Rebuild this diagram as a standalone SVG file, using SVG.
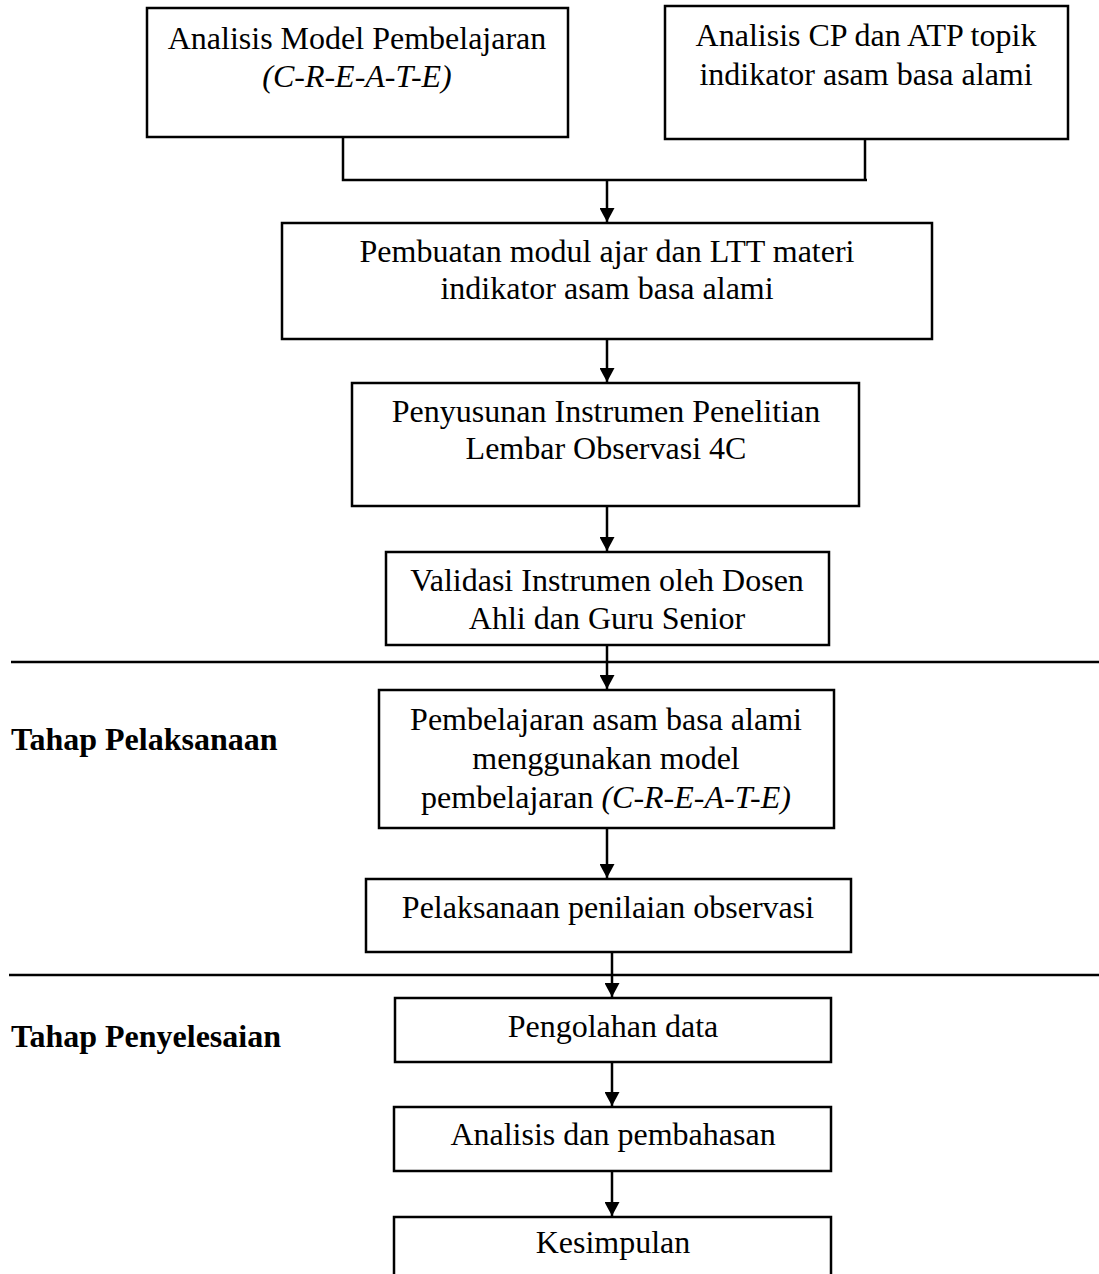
<svg xmlns="http://www.w3.org/2000/svg" width="1099" height="1274" viewBox="0 0 1099 1274">
<style>
  .box { fill: #ffffff; stroke: #000000; stroke-width: 2.5; }
  .t { font-family: "Liberation Serif", "Times New Roman", serif; font-size: 32px; fill: #000000; text-anchor: middle; }
  .i { font-style: italic; }
  .lbl { font-family: "Liberation Serif", "Times New Roman", serif; font-size: 32px; font-weight: bold; fill: #000000; }
  .ln { stroke: #000000; stroke-width: 2.5; fill: none; }
  .sep { stroke: #000000; stroke-width: 2.5; }
</style>
<defs>
  <marker id="arr" viewBox="0 0 14 15" refX="14" refY="7.5" markerWidth="14" markerHeight="15" markerUnits="userSpaceOnUse" orient="auto">
    <path d="M0,0 L14,7.5 L0,15 Z" fill="#000000"/>
  </marker>
</defs>
<rect width="1099" height="1274" fill="#ffffff"/>

<g id="separators">
  <line class="sep" x1="11" y1="662" x2="1099" y2="662"/>
  <line class="sep" x1="9" y1="975" x2="1099" y2="975"/>
</g>

<g id="connectors">
  <polyline class="ln" points="343,137 343,180 867,180"/>
  <line class="ln" x1="865" y1="139" x2="865" y2="180"/>
  <line class="ln" x1="607" y1="180" x2="607" y2="222" marker-end="url(#arr)"/>
  <line class="ln" x1="607" y1="339" x2="607" y2="382" marker-end="url(#arr)"/>
  <line class="ln" x1="607" y1="506" x2="607" y2="551" marker-end="url(#arr)"/>
  <line class="ln" x1="607" y1="645" x2="607" y2="689" marker-end="url(#arr)"/>
  <line class="ln" x1="607" y1="828" x2="607" y2="878" marker-end="url(#arr)"/>
  <line class="ln" x1="612" y1="952" x2="612" y2="997" marker-end="url(#arr)"/>
  <line class="ln" x1="612" y1="1062" x2="612" y2="1106" marker-end="url(#arr)"/>
  <line class="ln" x1="612" y1="1171" x2="612" y2="1216" marker-end="url(#arr)"/>
</g>

<g id="node-analisis-model">
  <rect class="box" x="147" y="8" width="421" height="129"/>
  <text class="t" x="357" y="49">Analisis Model Pembelajaran</text>
  <text class="t i" x="357" y="87">(C-R-E-A-T-E)</text>
</g>

<g id="node-analisis-cp">
  <rect class="box" x="665" y="6" width="403" height="133"/>
  <text class="t" x="866" y="46">Analisis CP dan ATP topik</text>
  <text class="t" x="866" y="85">indikator asam basa alami</text>
</g>

<g id="node-pembuatan">
  <rect class="box" x="282" y="223" width="650" height="116"/>
  <text class="t" x="607" y="262">Pembuatan modul ajar dan LTT materi</text>
  <text class="t" x="607" y="299">indikator asam basa alami</text>
</g>

<g id="node-penyusunan">
  <rect class="box" x="352" y="383" width="507" height="123"/>
  <text class="t" x="606" y="422">Penyusunan Instrumen Penelitian</text>
  <text class="t" x="606" y="459">Lembar Observasi 4C</text>
</g>

<g id="node-validasi">
  <rect class="box" x="386" y="552" width="443" height="93"/>
  <text class="t" x="607" y="591">Validasi Instrumen oleh Dosen</text>
  <text class="t" x="607" y="629">Ahli dan Guru Senior</text>
</g>

<g id="label-pelaksanaan">
  <text class="lbl" x="11" y="750">Tahap Pelaksanaan</text>
</g>

<g id="node-pembelajaran">
  <rect class="box" x="379" y="690" width="455" height="138"/>
  <text class="t" x="606" y="730">Pembelajaran asam basa alami</text>
  <text class="t" x="606" y="769">menggunakan model</text>
  <text class="t" x="606" y="808">pembelajaran <tspan class="i">(C-R-E-A-T-E)</tspan></text>
</g>

<g id="node-pelaksanaan-penilaian">
  <rect class="box" x="366" y="879" width="485" height="73"/>
  <text class="t" x="608" y="918">Pelaksanaan penilaian observasi</text>
</g>

<g id="label-penyelesaian">
  <text class="lbl" x="11" y="1047">Tahap Penyelesaian</text>
</g>

<g id="node-pengolahan">
  <rect class="box" x="395" y="998" width="436" height="64"/>
  <text class="t" x="613" y="1037">Pengolahan data</text>
</g>

<g id="node-analisis-pembahasan">
  <rect class="box" x="394" y="1107" width="437" height="64"/>
  <text class="t" x="613" y="1145">Analisis dan pembahasan</text>
</g>

<g id="node-kesimpulan">
  <rect class="box" x="394" y="1217" width="437" height="80"/>
  <text class="t" x="613" y="1253">Kesimpulan</text>
</g>
</svg>
